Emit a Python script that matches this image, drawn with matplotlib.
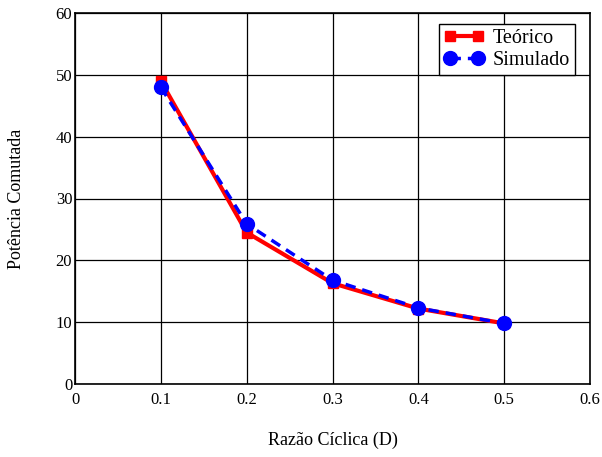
import matplotlib
matplotlib.use('Agg')
import matplotlib.pyplot as plt

plt.rcParams['font.family'] = ['Liberation Serif', 'DejaVu Serif']

# razão cíclica
d = [0.1, 0.2, 0.3, 0.4, 0.5]
# potência comutada
teorico = [49.0, 24.5, 16.3, 12.2, 9.8]
simulado = [48.0, 25.9, 16.8, 12.3, 9.8]

fig = plt.figure(figsize=(6.02, 4.57), dpi=100)
ax = fig.add_axes([75 / 602, 1 - 384 / 457, 515 / 602, 371 / 457])

ax.plot(d, teorico, color='red', lw=3, marker='s', ms=7, label='Teórico', zorder=3)
ax.plot(d, simulado, color='blue', lw=2.5, ls=(0, (3, 2)), marker='o', ms=10,
        label='Simulado', zorder=4)

ax.set_xlim(0, 0.6)
ax.set_ylim(0, 60)
ax.set_xticks([0, 0.1, 0.2, 0.3, 0.4, 0.5, 0.6])
ax.set_xticklabels(['0', '0.1', '0.2', '0.3', '0.4', '0.5', '0.6'])
ax.set_yticks([0, 10, 20, 30, 40, 50, 60])
ax.grid(True, color='black', lw=0.9)
ax.tick_params(axis='x', length=0, labelsize=12, pad=6)
ax.tick_params(axis='y', length=0, labelsize=12, pad=2)
for s in ax.spines.values():
    s.set_linewidth(1.2)

ax.set_xlabel('Razão Cíclica (D)', fontsize=13, labelpad=17)
ax.set_ylabel('Potência Comutada', fontsize=13, labelpad=22)

leg = ax.legend(loc='upper right', fontsize=14.5, fancybox=False, framealpha=1,
                edgecolor='black', handlelength=2.0, handletextpad=0.4, numpoints=2,
                borderpad=0.25, labelspacing=0.15, borderaxespad=0,
                bbox_to_anchor=(0.97, 0.97))
leg.get_frame().set_linewidth(1)

fig.savefig('out.png', dpi=100)
